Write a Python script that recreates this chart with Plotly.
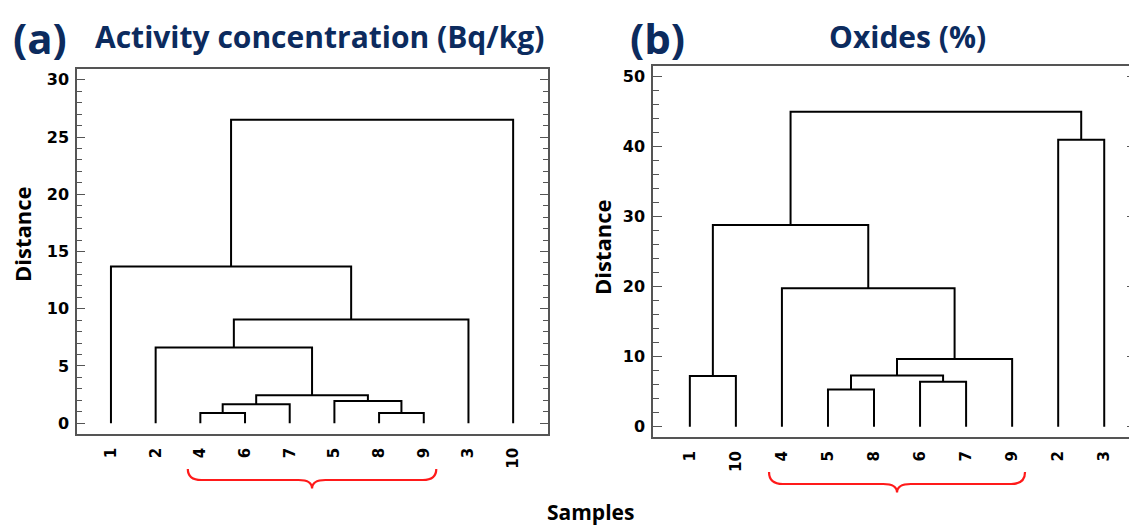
import plotly.graph_objects as go

# ---------------- data ----------------
leaf_order_a = ["1", "2", "4", "6", "7", "5", "8", "9", "3", "10"]
# merges: (left child, right child, height); "mK" refers to the K-th merge
merges_a = [
    ("4", "6", 0.9),
    ("8", "9", 0.9),
    ("m0", "7", 1.66),
    ("5", "m1", 1.95),
    ("m2", "m3", 2.45),
    ("2", "m4", 6.62),
    ("m5", "3", 9.07),
    ("1", "m6", 13.68),
    ("m7", "10", 26.5),
]
group_a = ["4", "9"]  # bracketed group (first, last leaf)

leaf_order_b = ["1", "10", "4", "5", "8", "6", "7", "9", "2", "3"]
merges_b = [
    ("5", "8", 5.33),
    ("6", "7", 6.43),
    ("1", "10", 7.24),
    ("m0", "m1", 7.33),
    ("m3", "9", 9.67),
    ("4", "m4", 19.77),
    ("m2", "m5", 28.8),
    ("2", "3", 41.0),
    ("m6", "m7", 45.0),
]
group_b = ["4", "9"]

title_a = "Activity concentration (Bq/kg)"
title_b = "Oxides (%)"

# page has an 8px body margin: compensate so that page pixels match
OFF = 8
W, H = 1137 - OFF, 528 - OFF
NAVY = "#0c2b5e"
AX = "#555555"


def px(x):
    return (x - OFF) / W


def py(y):
    return 1 - (y - OFF) / H


def dendro_xy(order, merges):
    pos = {lab: (i + 1, 0.0) for i, lab in enumerate(order)}
    xs, ys = [], []
    for k, (a, b, h) in enumerate(merges):
        xa, ya = pos[a]
        xb, yb = pos[b]
        xs += [xa, xa, xb, xb, None]
        ys += [ya, h, h, yb, None]
        pos["m%d" % k] = ((xa + xb) / 2, h)
    return xs, ys


fig = go.Figure()
xa_, ya_ = dendro_xy(leaf_order_a, merges_a)
xb_, yb_ = dendro_xy(leaf_order_b, merges_b)
fig.add_trace(go.Scatter(x=xa_, y=ya_, mode="lines", line=dict(color="black", width=2),
                         xaxis="x", yaxis="y", showlegend=False, hoverinfo="skip"))
fig.add_trace(go.Scatter(x=xb_, y=yb_, mode="lines", line=dict(color="black", width=2),
                         xaxis="x2", yaxis="y2", showlegend=False, hoverinfo="skip"))

tickfont = dict(family="DejaVu Sans", size=16, color="black", weight="bold")
xtickfont = dict(family="DejaVu Sans", size=15, color="black", weight="bold")


def xaxis(dom, rng, order):
    return dict(domain=dom, range=rng, tickmode="array",
                tickvals=list(range(1, len(order) + 1)), ticktext=order,
                tickangle=-90, ticks="", showline=True, linecolor=AX, linewidth=1.5,
                mirror=True, showgrid=False, zeroline=False, tickfont=xtickfont,
                ticklabelstandoff=6, fixedrange=True)


def yaxis(dom, rng, anchor, dt, mdt, tl, mtl):
    return dict(domain=dom, range=rng, anchor=anchor, tickmode="linear", tick0=0, dtick=dt,
                ticks="inside", ticklen=tl, tickwidth=1.3, tickcolor=AX,
                minor=dict(ticks="inside", dtick=mdt, ticklen=mtl, tickwidth=1.1, tickcolor=AX,
                           showgrid=False),
                showline=True, linecolor=AX, linewidth=1.5, mirror="ticks",
                showgrid=False, zeroline=False, tickfont=tickfont, ticklabelstandoff=3,
                fixedrange=True)


fig.update_layout(
    width=W, height=H, margin=dict(l=0, r=0, t=0, b=0),
    paper_bgcolor="white", plot_bgcolor="white", showlegend=False,
    xaxis=xaxis([px(77), px(548)], [0.24, 10.78], leaf_order_a) | dict(anchor="y"),
    yaxis=yaxis([py(434), py(69)], [-0.94, 30.94], "x", 5, 1, 8, 5),
    xaxis2=xaxis([px(653), px(1136)], [0.20, 10.69], leaf_order_b) | dict(anchor="y2"),
    yaxis2=yaxis([py(437.3), py(65.7)], [-1.51, 51.57], "x2", 10, 2, 9, 6),
)


def brace(order, grp, xref, ytop, yflat, ytip, pad=0.28, r=0.3):
    x0 = order.index(grp[0]) + 1 - pad
    x1 = order.index(grp[1]) + 1 + pad
    xm = (x0 + x1) / 2
    path = (f"M {x0},{ytop} Q {x0},{yflat} {x0 + r},{yflat} L {xm - r},{yflat} "
            f"Q {xm},{yflat} {xm},{ytip} Q {xm},{yflat} {xm + r},{yflat} "
            f"L {x1 - r},{yflat} Q {x1},{yflat} {x1},{ytop}")
    return dict(type="path", path=path, xref=xref, yref="paper",
                line=dict(color="#ff1a1a", width=2.2))


fig.add_shape(brace(leaf_order_a, group_a, "x", py(469), py(480), py(488.5)))
fig.add_shape(brace(leaf_order_b, group_b, "x2", py(472), py(484), py(492.5)))

ann_font = dict(family="Open Sans", color=NAVY, weight="bold")
lab_font = dict(family="Open Sans", color="black", weight="bold", size=22)
anns = [
    dict(text="(a)", x=px(40), y=py(37), font=ann_font | dict(size=42)),
    dict(text=title_a, x=px(319), y=py(36), font=ann_font | dict(size=30)),
    dict(text="(b)", x=px(657), y=py(37), font=ann_font | dict(size=42)),
    dict(text=title_b, x=px(908), y=py(36), font=ann_font | dict(size=30)),
    dict(text="Distance", x=px(22), y=py(234), textangle=-90, font=lab_font),
    dict(text="Distance", x=px(602), y=py(247), textangle=-90, font=lab_font),
    dict(text="Samples", x=px(590), y=py(512), font=lab_font | dict(size=21)),
]
for a in anns:
    fig.add_annotation(xref="paper", yref="paper", showarrow=False,
                       xanchor="center", yanchor="middle", **a)

fig.write_html("out.html")
